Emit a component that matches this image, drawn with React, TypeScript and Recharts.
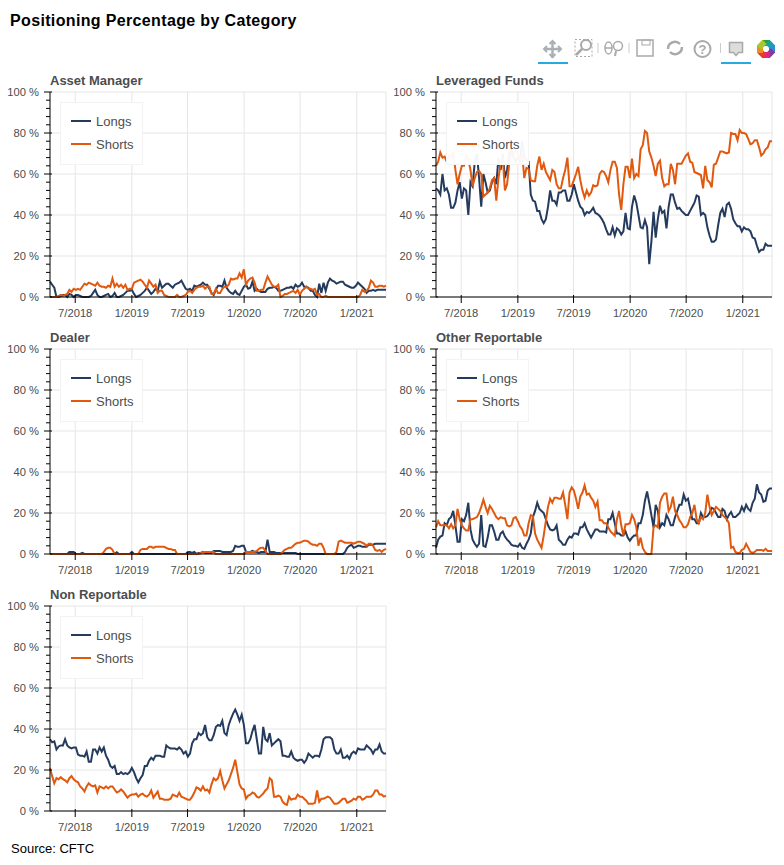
import { CartesianGrid, Legend, Line, LineChart, XAxis, YAxis } from 'recharts'

const weekCount = 157
const firstWeek = Date.UTC(2018, 3, 10)
const weekMs = 7 * 24 * 3600 * 1000
const weeks = Array.from({ length: weekCount }, (_, i) => firstWeek + i * weekMs)

const dateTicks = [
  Date.UTC(2018, 6, 1),
  Date.UTC(2019, 0, 1),
  Date.UTC(2019, 6, 1),
  Date.UTC(2020, 0, 1),
  Date.UTC(2020, 6, 1),
  Date.UTC(2021, 0, 1),
]
const percentTicks = [0, 20, 40, 60, 80, 100]
const minorPercentTicks = [0, 4, 8, 12, 16, 20, 24, 28, 32, 36, 40, 44, 48, 52, 56, 60, 64, 68, 72, 76, 80, 84, 88, 92, 96, 100]

const assetLongs = [
  7.5, 6, 4.5, 0, 0, 0.5, 1, 1, 0, 1.5,
  1, 0, 1, 1, 0.5, 0, 0, 0, 0, 0.5,
  2, 3.5, 1, 0, 0, 0.5, 1, 1.5, 0, 0.5,
  2, 0, 0, 0.5, 1, 2, 3, 3, 3.5, 1.5,
  0, 0.5, 1, 2, 3, 4.5, 3, 1.5, 2.5, 4,
  3, 7.5, 4.5, 5.5, 6.5, 6.5, 5.5, 4.5, 6, 6.5,
  7, 8, 6, 4, 3.5, 4, 3, 5.5, 5, 5.5,
  6, 7, 6, 6, 4, 2, 1, 3.5, 5.5, 5.5,
  5, 8, 4.5, 3, 2, 1.5, 3, 1.5, 1, 3,
  5, 6, 4, 4.5, 7.5, 3, 4, 3, 2.5, 2.5,
  2.5, 4, 4.5, 4.5, 5, 4.5, 3, 3, 3.5, 4,
  4.5, 4.5, 5, 4, 6, 5, 5.5, 7, 5, 5,
  4.5, 3, 3, 1, 0, 6.5, 2, 7, 3, 7,
  9, 8, 7.5, 6.5, 7, 7.5, 7.5, 6, 5.5, 5,
  4.5, 4.5, 5.5, 7, 6, 5, 4, 2, 3, 3,
  3.5, 3, 3.5, 3.5, 3.5, 3.5, 3.5,
]
const assetShorts = [
  0, 0, 0, 0, 0.5, 1, 0.5, 1, 1.5, 3.5,
  2.5, 4, 3.5, 4, 3.5, 5, 6.5, 6, 7, 6.5,
  6, 5.5, 7, 5.5, 5, 5, 4.5, 5.5, 5, 9,
  5, 6.5, 5, 6, 4.5, 6, 3.5, 4, 4, 7,
  7.5, 8, 8.5, 7.5, 6, 4.5, 8, 6.5, 5, 6,
  2, 3, 3, 1, 0.5, 0, 0, 0, 0, 1,
  0, 0, 0.5, 1, 2.5, 3, 2, 3.5, 4.5, 5,
  5, 5.5, 4, 5, 5, 1.5, 1.5, 4, 2, 2,
  4, 5, 5, 6, 9, 8.5, 9, 9, 11.5, 9.5,
  13.5, 6, 8, 9, 9.5, 7, 3, 3, 3.5, 3.5,
  7, 10, 8, 6, 5, 5, 6, 0, 0.5, 1.5,
  1.5, 2, 2.5, 3, 2, 3.5, 1, 3, 4, 5,
  4, 4, 3.5, 4, 1, 1.5, 0, 0, 0.5, 0,
  0, 0, 0, 0, 0, 0, 0, 0, 0, 0,
  0, 0, 0, 0, 1, 3.5, 2.5, 3, 4.5, 8,
  7, 5, 5, 5.5, 5.5, 5, 5.5,
]

const leveragedLongs = [
  53, 52, 50, 60, 52, 53, 50, 43.5, 43.5, 46,
  52, 56, 48, 53, 52, 40, 56, 54, 66, 70,
  58, 44, 60, 56, 51, 52, 56, 58, 55, 68,
  62, 70, 58, 62, 70, 72, 68, 66, 68, 66,
  76, 68, 67, 66, 50, 47, 46.5, 42, 42, 38,
  36, 38, 44, 52, 47, 47, 45, 51, 51, 52,
  52, 47, 47, 50, 55, 51, 47, 44, 43, 40,
  41.5, 41, 42, 43.5, 41, 40.5, 39.5, 38, 36, 33,
  30.5, 30.5, 34, 30, 33.5, 32.5, 30.5, 32, 41, 33.5,
  33, 44, 49.5, 46, 40, 34, 33.5, 37.5, 34, 16,
  27, 41.5, 29, 38, 44.5, 41, 42, 33.5, 44, 50,
  50, 46, 43, 43.5, 42, 41, 40, 40, 42, 44,
  46, 49.5, 49, 40, 41, 40, 34, 30, 27, 27,
  28, 35, 41, 43, 39, 45, 46, 43, 38, 36,
  34.5, 34.5, 32, 34, 33, 33, 32, 29, 28.5, 25,
  22, 23, 23, 26, 25, 25, 25,
]
const leveragedShorts = [
  64, 66, 70.5, 68, 68.5, 66, 69, 68, 71, 62,
  55, 60, 64, 64, 69, 67, 62, 54, 58, 61,
  61.5, 60, 49, 50, 51, 53, 57, 58, 47, 58,
  65, 68, 52, 55, 65, 70, 70, 72, 70, 67,
  70, 58, 63, 62.5, 57, 56.5, 56.5, 64, 68.5, 62,
  65, 61, 59, 57, 62, 61, 55, 53, 53, 58,
  62, 68, 54, 54, 57, 60, 63.5, 57, 52, 48.5,
  52, 49.5, 51, 54.5, 54, 54.5, 60, 61.5, 61, 59,
  56, 62, 66, 66, 63, 50, 42.5, 55, 63.5, 63.5,
  58, 67.5, 58, 60, 59, 72, 74, 81, 80, 71,
  68, 64, 59, 65, 66.5, 58, 54, 55, 55, 65,
  62, 55, 65, 65, 65, 67, 69, 70, 66, 65.5,
  61, 60.5, 60, 59.5, 53, 64, 57, 56, 53.5, 64.5,
  65, 68, 71, 71, 70.5, 70, 70.5, 80, 79.5, 79.5,
  76.5, 81.5, 80, 80, 79.5, 77, 74.5, 75, 76.5, 76.5,
  73, 69, 70, 72, 73, 76, 76,
]

const dealerLongs = [
  0, 0, 0, 0, 0, 0, 0, 0, 0, 1,
  1, 1, 0, 0, 0, 0.5, 0, 0, 0, 0,
  0, 0, 0, 0, 0, 0, 0, 0, 0, 0,
  0, 0.8, 0, 0, 0, 0, 0, 0, 1, 0,
  0, 0, 0, 0, 0, 0, 0, 0, 0, 0,
  0, 0, 0, 0, 0, 0, 0, 0, 0, 0,
  0, 0, 0, 0, 1, 1, 0.5, 1, 0, 0.5,
  0.5, 1, 0.5, 0.5, 0.5, 0.5, 1.5, 1.5, 1.5, 1.5,
  1, 1, 1, 1, 1, 1.5, 4, 3.5, 3.5, 4,
  4, 1, 1, 1, 1.5, 1, 1, 0.5, 1, 1,
  1, 7, 1, 1, 1, 0.5, 0.5, 0.5, 0.5, 0.5,
  0.5, 0.5, 0.5, 0.5, 0.5, 0, 0, 0, 0, 0,
  0, 0, 0, 0, 0, 0, 0, 0, 0, 0,
  0, 0, 0, 0, 0, 0, 0, 1, 3, 4,
  4.5, 3, 3.5, 4, 4, 3.5, 3.5, 3.5, 4.5, 4.5,
  4.5, 5, 5, 5, 5, 5, 5,
]
const dealerShorts = [
  0, 0, 0, 0, 0, 0, 0, 0, 0, 0,
  0, 0, 0, 0, 0, 0, 0, 0, 0, 0,
  0, 0, 0, 0, 0, 1, 2.5, 3, 3, 2,
  0, 0, 0, 0, 0, 0, 0, 0, 0, 0,
  0, 0, 2, 2.5, 2.5, 2.5, 3.5, 3.5, 3, 3.5,
  3.5, 3.5, 3.5, 3.5, 3, 2.5, 2.5, 2, 2, 0,
  0, 0, 0, 0, 0, 0, 0, 0, 0, 0,
  0.5, 1, 1, 1, 1, 1, 1, 0, 0, 0,
  0, 0, 0, 0, 0, 0, 0, 0, 0, 0,
  0, 1, 1, 1, 1, 1, 1.5, 2.5, 3, 3,
  1.5, 0, 0, 0, 0, 0, 0, 0, 1, 2,
  2.5, 3, 3, 4, 5, 5.5, 5.5, 6, 6.5, 6.5,
  6, 5, 4.5, 4.5, 4, 5, 5, 3, 0, 0,
  0, 0, 0, 1, 6, 6.5, 6, 5.5, 5.5, 5.5,
  5.5, 5, 5.5, 6, 6, 5.5, 5, 4, 5, 5,
  4, 2, 1.5, 2, 1, 2, 2.5,
]

const otherLongs = [
  3, 7, 8.5, 9, 15, 14, 17, 18, 21, 14,
  6, 6, 17, 16, 19, 25, 12, 7, 5, 3.5,
  5, 19, 4, 3.5, 8, 14, 14, 11, 7, 7,
  10, 11, 8.5, 7, 6, 4.5, 4, 4, 3.5, 5,
  3, 2.5, 5, 7, 10, 18, 21, 25, 22, 21,
  20, 17, 14, 12, 11.5, 12, 14, 7, 6, 4.5,
  4.5, 7, 8.5, 8, 10, 10, 9.5, 13, 13, 15,
  12, 10, 8, 10, 12, 12, 11, 11, 11, 10.5,
  17, 17, 20, 15, 10, 10, 9, 9, 11, 8,
  6.5, 8, 9, 9, 15, 15, 19, 26, 30.5, 25,
  19, 13, 24, 21, 13, 15, 14, 19, 17, 14,
  14, 18, 21, 24, 24, 29, 26, 27, 22, 17,
  17, 15, 15, 20, 18, 18, 18.5, 20, 22.5, 22,
  20, 18, 18, 22, 21, 17, 19, 20.5, 18, 18,
  19, 20, 23, 21, 24, 22, 21, 25, 27, 34,
  30, 29, 25.5, 26, 31, 32, 32,
]
const otherShorts = [
  13, 16, 14, 14, 14, 14, 12.5, 14.5, 12.5, 14,
  22, 17, 14, 12.5, 11.5, 11.5, 17, 17, 17.5, 18,
  20, 23, 26.5, 23, 20, 23.5, 22, 20, 18, 17,
  18, 17.5, 17.5, 14, 13.5, 14, 17.5, 18, 16, 13.5,
  12, 9, 9, 15, 19, 18.5, 10, 7, 5, 3,
  9, 16, 23, 27, 25, 27.5, 27.5, 27, 27, 30,
  24, 17, 30, 32.5, 31, 27, 22, 28, 30, 33.5,
  29, 29.5, 27.5, 26, 23, 25.5, 16.5, 16.5, 15, 15,
  13, 11, 10, 9, 17, 21, 14, 9, 14.5, 14.5,
  15, 19, 17, 13, 4, 8, 3, 1, 0, 0,
  0, 13, 14, 13, 25, 28, 29.5, 29.5, 21, 23,
  28, 21, 19, 16.5, 15, 13, 13, 14.5, 18, 20,
  24, 17, 15, 18, 17, 20, 29, 23, 19, 21,
  23, 22, 21, 19, 18, 17, 15, 3, 3.5, 1,
  0.5, 0.5, 2, 2.5, 5, 3, 1, 0.5, 1, 2,
  2, 2, 1.5, 2.5, 1.5, 1.5, 1.5,
]

const nonReportableLongs = [
  35, 33.5, 34, 30, 31.5, 32, 32, 35, 32, 31,
  30.5, 31, 31, 27.5, 27, 27, 26.5, 29, 24, 24,
  30, 30, 28, 31, 29, 31, 27, 25, 22, 21,
  22, 18, 18, 19, 18, 18.5, 18, 19, 21, 19,
  16, 14, 16, 17.5, 22, 22, 24.5, 26, 25, 27,
  27, 27, 26.5, 26.5, 32, 31, 30.5, 30.5, 30.5, 30,
  31, 30, 28, 29, 26.5, 28, 33, 35, 35, 38,
  37, 38, 42, 36, 34.5, 34.5, 37, 41, 42, 41.5,
  44, 38, 37, 42, 45, 47.5, 49.5, 47, 44, 47,
  42, 33, 33, 35, 39, 42, 35, 28, 28, 41,
  35, 34, 38, 32, 33, 34, 35, 34, 27, 27,
  26.5, 26.5, 29, 26, 25, 24.5, 25, 25, 23.5, 25,
  28, 27, 26, 27, 27, 26.5, 30, 35, 36, 36,
  36, 35, 30, 28, 28, 30, 26, 26, 27, 25.5,
  28, 29, 28, 30.5, 30, 30, 30, 32, 31, 30,
  28, 30, 30, 32.5, 29, 28, 28,
]
const nonReportableShorts = [
  21, 17, 13.5, 16, 15.5, 16.5, 15.5, 15, 14, 16,
  17, 15.5, 14.5, 14, 12, 11, 9.5, 12, 13.5, 12.5,
  12, 12.5, 9, 12, 11.5, 11, 12, 11, 12, 12,
  10.5, 9, 9.5, 10.5, 9.5, 8, 6.5, 7.5, 8, 8,
  8.5, 7, 8, 8.5, 7.5, 7, 8, 10, 6.5, 8,
  9.5, 6, 6, 5.5, 5.5, 5.5, 6, 8, 7.5, 7,
  9, 7, 6.5, 6, 5.5, 5.5, 7, 9, 11.5, 11,
  10, 12, 10, 10.5, 9, 13, 16, 15, 16, 19.5,
  15, 11, 13, 15, 18, 21, 25, 19, 13, 11,
  10.5, 6, 7.5, 8, 9, 8.5, 7, 6.5, 7.5, 8.5,
  10, 11, 16, 15, 7, 7, 7.5, 7, 4.5, 3.5,
  3, 7, 5.5, 6, 6, 8, 7, 7, 6, 5,
  3.5, 3.5, 3.5, 4, 10, 4.5, 6, 6, 6.5, 7,
  6.5, 5, 3.5, 3.5, 4, 5, 6, 6, 4, 4.5,
  5, 6, 5.5, 7, 7, 5.5, 6, 7, 7, 7,
  8, 10, 10, 8, 8, 7, 7.5,
]

const longsColor = '#243b5e'
const shortsColor = '#e0590f'
const gridColor = '#e6e6e6'
const labelColor = '#4d4d4d'
const fontFamily = '"Liberation Sans", Arial, sans-serif'

const formatDate = (t: number) => {
  const d = new Date(t)
  return `${d.getUTCMonth() + 1}/${d.getUTCFullYear()}`
}

const XTick = ({ x, y, payload }: any) => (
  <g>
    <line x1={x} x2={x} y1={y - 2} y2={y + 6} stroke="#000" />
    <text x={x} y={y + 20} textAnchor="middle" fontSize={11.2} fill={labelColor}>
      {formatDate(payload.value)}
    </text>
  </g>
)

const YTick = ({ x, y, payload }: any) => {
  const isMajor = percentTicks.includes(payload.value)
  return (
    <g>
      <line x1={x - (isMajor ? 6 : 4)} x2={x + (isMajor ? 2 : 0)} y1={y} y2={y} stroke="#000" />
      {isMajor && (
        <text x={x - 11} y={y + 4} textAnchor="end" fontSize={11.2} fill={labelColor}>
          {`${payload.value} %`}
        </text>
      )}
    </g>
  )
}

const LegendBox = ({ payload }: any) => (
  <div
    style={{
      boxSizing: 'border-box',
      width: 83,
      height: 63,
      background: 'rgba(255,255,255,0.95)',
      border: '1px solid #f3f3f3',
      position: 'relative',
    }}
  >
    {(payload ?? []).map((item: any, i: number) => (
      <div key={item.value} style={{ position: 'absolute', left: 10, top: 8 + i * 23, height: 20, display: 'flex', alignItems: 'center' }}>
        <div style={{ width: 20, height: 2, background: item.color }} />
        <span style={{ marginLeft: 5, fontSize: 13, color: labelColor, fontFamily }}>{item.value}</span>
      </div>
    ))}
  </div>
)

type PanelProps = {
  title: string
  left: number
  top: number
  longs: number[]
  shorts: number[]
}

// top is the y of the 100 % line, the chart box starts 22px above it
const Panel = ({ title, left, top, longs, shorts }: PanelProps) => {
  const data = weeks.map((t, i) => ({ t, longs: longs[i], shorts: shorts[i] }))
  return (
    <div style={{ position: 'absolute', left, top: top - 22, width: 392, height: 257 }}>
      <div style={{ position: 'absolute', left: 50, top: 3, font: `bold 13px ${fontFamily}`, color: labelColor, zIndex: 1 }}>{title}</div>
      <LineChart
        width={392}
        height={257}
        data={data}
        margin={{ top: 22, right: 6, bottom: 0, left: 0 }}
        style={{ fontFamily }}
      >
        <CartesianGrid
          stroke={gridColor}
          horizontalValues={percentTicks}
          verticalValues={[...dateTicks, weeks[weeks.length - 1]]}
        />
        <XAxis
          dataKey="t"
          type="number"
          domain={[weeks[0], weeks[weeks.length - 1]]}
          ticks={dateTicks}
          interval={0}
          height={30}
          tickSize={0}
          tickMargin={0}
          tickLine={false}
          tick={<XTick />}
          stroke="#000"
        />
        <YAxis
          type="number"
          domain={[0, 100]}
          ticks={minorPercentTicks}
          interval={0}
          width={50}
          tickSize={0}
          tickMargin={0}
          tickLine={false}
          tick={<YTick />}
          stroke="#000"
        />
        <Line dataKey="longs" name="Longs" stroke={longsColor} strokeWidth={2} dot={false} isAnimationActive={false} />
        <Line dataKey="shorts" name="Shorts" stroke={shortsColor} strokeWidth={2} dot={false} isAnimationActive={false} />
        <Legend
          layout="vertical"
          align="center"
          verticalAlign="middle"
          wrapperStyle={{ left: 60, top: 32, width: 83, height: 63 }}
          content={<LegendBox />}
        />
      </LineChart>
    </div>
  )
}

const logoColors = ['#2ca02c', '#17a2a2', '#2b8fd6', '#7b3fa0', '#e0218a', '#e8382f', '#f08a24', '#a6c832']

const Toolbar = () => (
  <svg width={784} height={70} style={{ position: 'absolute', left: 0, top: 0 }}>
    <g stroke="#a9b0b3" strokeWidth={2.5} fill="none">
      <path d="M544 49h17M552.500 41v17" />
      <path d="M547 46l-3 3 3 3M558 46l3 3-3 3M549.500 44l3-3 3 3M549.500 54l3 3 3-3" strokeWidth={2} />
    </g>
    <g fill="none" stroke="#a9a9a9">
      <rect x={575} y={39.500} width={17} height={17} strokeDasharray="2 2" />
      <circle cx={586} cy={45} r={5} strokeWidth={2} />
      <path d="M582 49l-6 6" strokeWidth={2.500} />
      <ellipse cx={608.500} cy={48} rx={3.500} ry={6} strokeWidth={1.500} />
      <path d="M605 48h7" strokeWidth={1.500} />
      <circle cx={618} cy={46} r={4.500} strokeWidth={1.500} />
      <path d="M616 51l-1 5" strokeWidth={2} />
      <rect x={637} y={40} width={16} height={16} strokeWidth={1.500} />
      <rect x={642} y={40} width={8} height={5} strokeWidth={1} />
      <path d="M668 49a7 7 0 0 1 12-5M682 47a7 7 0 0 1-12 5" strokeWidth={2.500} />
      <circle cx={702.500} cy={49} r={8} strokeWidth={2} />
      <path d="M598 43v10M629 43v10M720.500 43v10" stroke="#ccc" />
      <path d="M729.500 42.500h13v10h-4l-2.500 3-2.500-3h-4z" fill="#ddd" strokeWidth={1.500} />
    </g>
    <text x={702.500} y={54} textAnchor="middle" fontSize={13} fontWeight="bold" fill="#a9a9a9" fontFamily={fontFamily}>
      ?
    </text>
    <rect x={538} y={62} width={30} height={2} fill="#26aae1" />
    <rect x={721} y={62} width={30} height={2} fill="#26aae1" />
    <g>
      {logoColors.map((c, i) => (
        <rect key={c} x={762} y={40} width={8} height={6} fill={c} transform={`rotate(${i * 45} 766 49)`} />
      ))}
    </g>
  </svg>
)

export default function App() {
  return (
    <div style={{ position: 'absolute', left: 0, top: 0, width: 784, height: 865, background: '#fff', fontFamily }}>
      <Toolbar />
      <div style={{ position: 'absolute', left: 10, top: 12, font: `bold 16px ${fontFamily}`, color: '#000', letterSpacing: 0.35 }}>
        Positioning Percentage by Category
      </div>
      <Panel title="Asset Manager" left={0} top={92} longs={assetLongs} shorts={assetShorts} />
      <Panel title="Leveraged Funds" left={386} top={92} longs={leveragedLongs} shorts={leveragedShorts} />
      <Panel title="Dealer" left={0} top={349} longs={dealerLongs} shorts={dealerShorts} />
      <Panel title="Other Reportable" left={386} top={349} longs={otherLongs} shorts={otherShorts} />
      <Panel title="Non Reportable" left={0} top={606} longs={nonReportableLongs} shorts={nonReportableShorts} />
      <div style={{ position: 'absolute', left: 11, top: 841, font: `13px ${fontFamily}`, color: '#000' }}>Source: CFTC</div>
    </div>
  )
}
